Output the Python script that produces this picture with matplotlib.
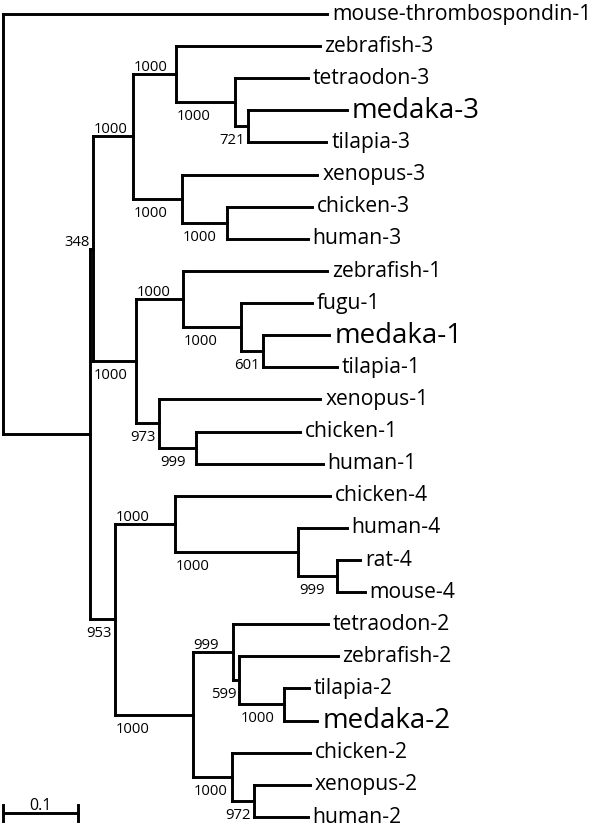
import matplotlib
matplotlib.use("Agg")
import matplotlib.pyplot as plt

# Humanist sans close to the Myriad look of the original figure
plt.rcParams["font.family"] = ["Open Sans", "DejaVu Sans"]

# Tree in preorder: node name, its parent, branch length and bootstrap support
nodes = ["root", "mouse-thrombospondin-1", "Y", "X",
         "c3", "f3", "zebrafish-3", "a3", "tetraodon-3", "b3", "medaka-3", "tilapia-3",
         "t3", "xenopus-3", "u3", "chicken-3", "human-3",
         "c1", "f1", "zebrafish-1", "a1", "fugu-1", "b1", "medaka-1", "tilapia-1",
         "t1", "xenopus-1", "u1", "chicken-1", "human-1",
         "c42", "c4", "chicken-4", "a4", "human-4", "b4", "rat-4", "mouse-4",
         "c2", "f2", "tetraodon-2", "a2", "zebrafish-2", "b2", "tilapia-2", "medaka-2",
         "t2", "chicken-2", "u2", "xenopus-2", "human-2"]
parents = [None, "root", "root", "Y",
           "X", "c3", "f3", "f3", "a3", "a3", "b3", "b3",
           "c3", "t3", "t3", "u3", "u3",
           "X", "c1", "f1", "f1", "a1", "a1", "b1", "b1",
           "c1", "t1", "t1", "u1", "u1",
           "Y", "c42", "c4", "c4", "a4", "a4", "b4", "b4",
           "c42", "c2", "f2", "f2", "a2", "a2", "b2", "b2",
           "c2", "t2", "t2", "u2", "u2"]
lengths = [0.0, 0.432, 0.116, 0.004,
           0.053, 0.057, 0.192, 0.079, 0.097, 0.017, 0.132, 0.105,
           0.065, 0.181, 0.061, 0.113, 0.107,
           0.057, 0.063, 0.192, 0.077, 0.095, 0.029, 0.089, 0.099,
           0.031, 0.215, 0.049, 0.139, 0.169,
           0.033, 0.080, 0.207, 0.164, 0.065, 0.052, 0.031, 0.037,
           0.104, 0.053, 0.127, 0.009, 0.131, 0.060, 0.033, 0.044,
           0.052, 0.104, 0.029, 0.075, 0.072]
support = {"X": 348, "c3": 1000, "f3": 1000, "a3": 1000, "b3": 721, "t3": 1000, "u3": 1000,
           "c1": 1000, "f1": 1000, "a1": 1000, "b1": 601, "t1": 973, "u1": 999,
           "c42": 953, "c4": 1000, "a4": 1000, "b4": 999,
           "c2": 1000, "f2": 999, "a2": 599, "b2": 1000, "t2": 1000, "u2": 972}
big_labels = ["medaka-1", "medaka-2", "medaka-3"]
scale_len = 0.1

# layout: x = distance from root, y = tip order
children = {n: [] for n in nodes}
for n, p in zip(nodes, parents):
    if p is not None:
        children[p].append(n)
xpos = {}
for n, p, L in zip(nodes, parents, lengths):
    xpos[n] = 0.0 if p is None else xpos[p] + L
tips = [n for n in nodes if not children[n]]
ypos = {n: i for i, n in enumerate(tips)}
for n in reversed(nodes):
    if children[n]:
        ypos[n] = (ypos[children[n][0]] + ypos[children[n][-1]]) / 2

fig = plt.figure(figsize=(6, 8.32), dpi=100)
ax = fig.add_axes([0, 0, 1, 1])
ax.set_xlim(-0.004, 0.796)
ax.set_ylim(25.47, -0.436)
ax.axis("off")

lw = 2.1
px = 0.72  # one pixel in points
line_kw = dict(color="black", lw=lw, solid_capstyle="projecting")

# vertical connectors
for n in nodes:
    if children[n]:
        ax.plot([xpos[n], xpos[n]], [ypos[children[n][0]], ypos[children[n][-1]]], **line_kw)
# horizontal branches
for n, p in zip(nodes, parents):
    if p is not None:
        ax.plot([xpos[p], xpos[n]], [ypos[n], ypos[n]], **line_kw)

# tip labels (baseline set so the branch meets the middle of the x-height)
for n in tips:
    big = n in big_labels
    size = 20 if big else 15.2
    ax.annotate(n, (xpos[n], ypos[n]), xytext=(5 * px, -(7.4 if big else 5.6) * px),
                textcoords="offset points", ha="left", va="baseline", fontsize=size)

# bootstrap values
for n, s in support.items():
    p = parents[nodes.index(n)]
    upper = n == children[p][0]
    txt = str(s)
    width_px = 8.6 * len(txt)
    branch_px = (xpos[n] - xpos[p]) * 750
    if branch_px >= width_px + 2:
        x, dx, ha = xpos[p], 1, "left"
    else:
        x, dx, ha = xpos[n], -3, "right"
    dy = 3 if upper else -18
    ax.annotate(txt, (x, ypos[n]), xytext=(dx * px, dy * px), textcoords="offset points",
                ha=ha, va="baseline", fontsize=10.7)

# scale bar
ys = ypos[tips[-1]] - 0.12
ax.plot([0, scale_len], [ys, ys], color="black", lw=lw)
for xe in (0, scale_len):
    ax.plot([xe, xe], [ys - 0.25, ys + 0.25], color="black", lw=lw)
ax.annotate(f"{scale_len:g}", (scale_len / 2, ys), xytext=(0, 3 * px), textcoords="offset points",
            ha="center", va="baseline", fontsize=11.5)

fig.savefig("out.png", dpi=100)
